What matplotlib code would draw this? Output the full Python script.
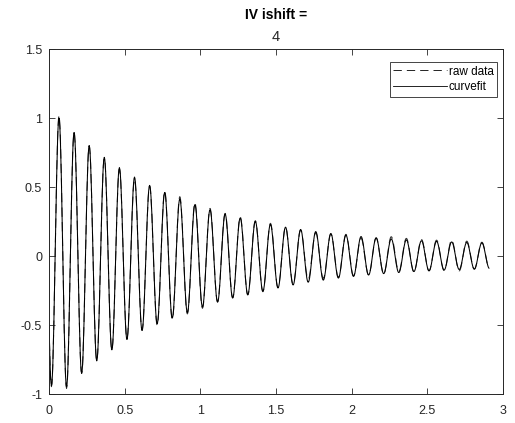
import numpy as np
import matplotlib
matplotlib.use("Agg")
import matplotlib.pyplot as plt
from matplotlib.lines import Line2D

plt.rcParams['font.family'] = ['Liberation Sans', 'DejaVu Sans']
plt.rcParams['axes.unicode_minus'] = False

# ---- values ----
title_line1 = "IV ishift ="
title_line2 = "4"
series_names = ["raw data", "curvefit"]
xticks = [0, 0.5, 1, 1.5, 2, 2.5, 3]
xticklabels = ["0", "0.5", "1", "1.5", "2", "2.5", "3"]
yticks = [-1, -0.5, 0, 0.5, 1, 1.5]
yticklabels = ["-1", "-0.5", "0", "0.5", "1", "1.5"]

period = 0.0998          # oscillation period (s)
first_trough_t = 0.0161  # time of first trough
t_start = 0.0
t_end = 2.91
start_peak_value = 1.0   # virtual peak before t=0 (sets the starting value)

# extremum values, alternating trough/peak: trough_0, peak_0, trough_1, peak_1, ...
raw_troughs = [-0.947, -0.959, -0.850, -0.758, -0.681, -0.597, -0.536, -0.502, -0.459, -0.420,
               -0.379, -0.331, -0.302, -0.283, -0.259, -0.227, -0.203, -0.169, -0.162, -0.154,
               -0.143, -0.138, -0.130, -0.112, -0.115, -0.108, -0.105, -0.108, -0.095, -0.090]
raw_peaks = [1.017, 0.894, 0.797, 0.708, 0.630, 0.556, 0.507, 0.471, 0.430, 0.386,
             0.345, 0.309, 0.283, 0.256, 0.237, 0.208, 0.188, 0.169, 0.159, 0.157,
             0.128, 0.130, 0.140, 0.128, 0.120, 0.115, 0.115, 0.108, 0.100]
fit_troughs = [-0.940, -0.950, -0.850, -0.760, -0.680, -0.605, -0.540, -0.490, -0.450, -0.410,
               -0.370, -0.335, -0.305, -0.280, -0.255, -0.232, -0.210, -0.190, -0.175, -0.160,
               -0.148, -0.138, -0.128, -0.120, -0.113, -0.107, -0.102, -0.098, -0.095, -0.090]
fit_peaks = [1.000, 0.895, 0.800, 0.715, 0.640, 0.572, 0.512, 0.460, 0.414, 0.372,
             0.336, 0.304, 0.276, 0.251, 0.229, 0.209, 0.192, 0.177, 0.163, 0.151,
             0.141, 0.132, 0.124, 0.117, 0.111, 0.106, 0.102, 0.098, 0.095]


def build_curve(troughs, peaks):
    ext_vals = [start_peak_value]
    for i in range(len(troughs)):
        ext_vals.append(troughs[i])
        if i < len(peaks):
            ext_vals.append(peaks[i])
    half = period / 2.0
    ext_t = [first_trough_t - half + i * half for i in range(len(ext_vals))]
    ts, ys = [], []
    for i in range(len(ext_vals) - 1):
        t0, t1 = ext_t[i], ext_t[i + 1]
        y0, y1 = ext_vals[i], ext_vals[i + 1]
        tt = np.linspace(t0, t1, 16, endpoint=False)
        frac = (tt - t0) / (t1 - t0)
        yy = (y0 + y1) / 2 + (y0 - y1) / 2 * np.cos(np.pi * frac)
        ts.append(tt)
        ys.append(yy)
    ts.append(np.array([ext_t[-1]]))
    ys.append(np.array([ext_vals[-1]]))
    t = np.concatenate(ts)
    y = np.concatenate(ys)
    m = (t >= t_start) & (t <= t_end + 1e-9)
    return t[m], y[m]


t_raw, y_raw = build_curve(raw_troughs, raw_peaks)
t_fit, y_fit = build_curve(fit_troughs, fit_peaks)

W, H = 515, 423
fig = plt.figure(figsize=(W / 100, H / 100), dpi=100)
ax = fig.add_axes([49 / W, (H - 394) / H, 454 / W, 345 / H])

dash = (0, (9, 5))
ax.plot(t_raw, y_raw, linestyle=dash, color='#333333', linewidth=0.75, label=series_names[0])
ax.plot(t_fit, y_fit, linestyle='-', color='black', linewidth=0.75, label=series_names[1])

ax.set_xlim(0, 3)
ax.set_ylim(-1, 1.5)
ax.set_xticks(xticks)
ax.set_xticklabels(xticklabels)
ax.set_yticks(yticks)
ax.set_yticklabels(yticklabels)
axis_color = '#262626'
for s in ax.spines.values():
    s.set_color(axis_color)
    s.set_linewidth(0.7)
ax.tick_params(direction='in', top=True, right=True, length=4, width=0.6,
               colors=axis_color, labelsize=9)
ax.tick_params(axis='x', pad=8)
ax.tick_params(axis='y', pad=5)

fig.text(276 / W, 1 - 15 / H, title_line1, ha='center', va='center',
         fontsize=10, fontweight='bold', color='black')
fig.text(276 / W, 1 - 37 / H, title_line2, ha='center', va='center',
         fontsize=10.5, color='#262626')

handles = [Line2D([], [], color='black', linestyle=(0, (10, 6)), linewidth=0.6),
           Line2D([], [], color='black', linestyle='-', linewidth=0.6)]
leg = ax.legend(handles, series_names, loc='upper right',
                bbox_to_anchor=(497 / W, 1 - 62 / H), bbox_transform=fig.transFigure,
                fontsize=8.5, handlelength=4.6, handletextpad=0.1, borderpad=0.3,
                labelspacing=0.3, borderaxespad=0, fancybox=False, framealpha=1,
                edgecolor=axis_color)
leg.get_frame().set_linewidth(0.6)

fig.savefig('out.png', dpi=100)
